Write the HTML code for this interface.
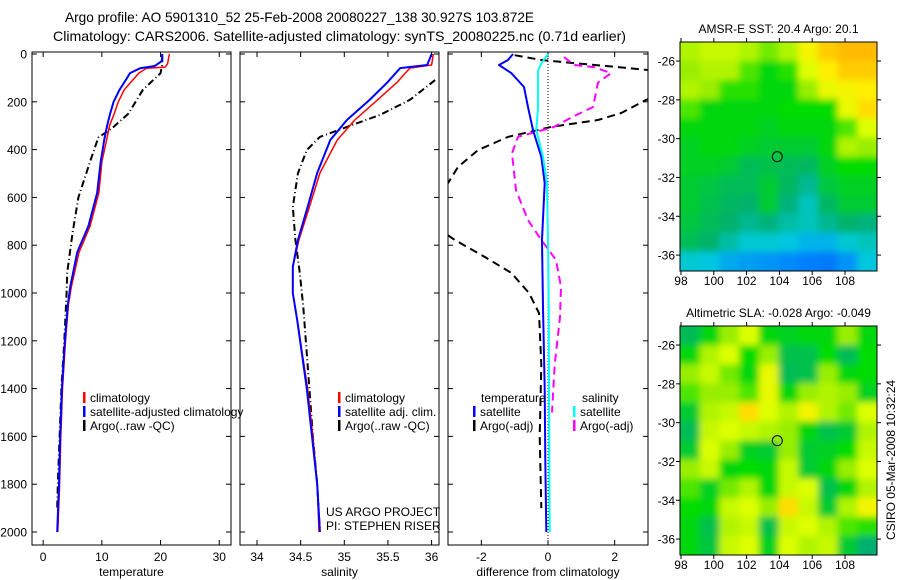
<!DOCTYPE html>
<html><head><meta charset="utf-8"><style>
body{margin:0;background:#fff;}
svg{display:block;font-family:"Liberation Sans",sans-serif;}
text{fill:#000;}
</style></head><body>
<svg id="fig" width="900" height="580" xmlns="http://www.w3.org/2000/svg">
<text x="65" y="22" font-size="14" textLength="469" lengthAdjust="spacingAndGlyphs">Argo profile: AO 5901310_52 25-Feb-2008 20080227_138 30.927S 103.872E</text>
<text x="53" y="41" font-size="14" textLength="573" lengthAdjust="spacingAndGlyphs">Climatology: CARS2006. Satellite-adjusted climatology: synTS_20080225.nc (0.71d earlier)</text>
<g id="layer"></g>
</svg>
<script>
// ---------- data ----------
const tClimDepth=[0,40,55,60,80,100,150,200,250,300,360,450,580,720,830,975,1050,1200,1400,1600,1800,2000];
const tClimVal=[21.5,21.2,20.8,17.6,16.3,15.6,13.8,12.8,12.1,11.3,10.8,10.0,9.5,8.0,6.1,4.8,4.3,3.8,3.3,3.0,2.8,2.5];
const tSatDepth=[0,30,50,60,80,100,150,200,250,300,360,450,580,720,830,975,1050,1200,1400,1600,1800,2000];
const tSatVal=[20.3,20.2,19.0,16.5,14.8,14.3,13.0,12.0,11.4,10.9,10.4,9.8,9.2,7.7,5.8,4.6,4.2,3.7,3.2,2.9,2.7,2.4];
const tArgoDepth=[5,40,80,150,250,305,350,450,600,750,915,1000,1200,1400,1600,1800,1900];
const tArgoVal=[20.3,20.3,20.0,17.0,14.5,12.0,9.4,8.0,6.0,5.0,4.1,4.0,3.6,3.1,2.8,2.5,2.4];
const sClimDepth=[0,46,59,120,192,276,360,498,640,778,891,1000,1113,1400,1600,1800,2000];
const sClimVal=[36.02,36.0,35.75,35.6,35.38,35.12,34.92,34.72,34.6,34.48,34.41,34.41,34.46,34.58,34.64,34.69,34.71];
const sSatDepth=[0,46,59,120,192,276,360,498,640,778,891,1000,1113,1400,1600,1800,2000];
const sSatVal=[36.0,35.95,35.64,35.49,35.29,35.03,34.84,34.69,34.58,34.47,34.41,34.41,34.46,34.57,34.63,34.69,34.72];
const sArgoDepth=[109,192,255,305,347,402,498,640,778,916,1058,1400,1600,1800,2000];
const sArgoVal=[36.04,35.75,35.41,35.03,34.72,34.57,34.47,34.41,34.44,34.49,34.53,34.6,34.64,34.69,34.72];
const dTSatDepth=[0,25,46,80,138,222,318,430,540,778,1058,1400,1700,2000];
const dTSatVal=[-1.05,-1.2,-1.47,-1.1,-0.72,-0.6,-0.45,-0.2,-0.1,-0.18,-0.15,-0.1,-0.08,-0.05];
const dSSatDepth=[0,40,70,222,318,430,540,778,1058,1400,1700,2000];
const dSSatVal=[0,-0.2,-0.3,-0.3,-0.35,-0.15,-0.03,0,0.02,0.03,0.04,0.05];
const dSArgoDepth=[13,46,55,80,120,222,260,305,347,415,570,695,778,862,975,1100,1300,1500];
const dSArgoVal=[0.48,0.78,1.38,1.89,1.5,1.35,0.78,0.18,-0.9,-1.08,-0.96,-0.6,-0.2,0.24,0.39,0.36,0.2,0.12];
const dTArgoDepth=[5,25,38,55,67,100,150,192,247,276,305,347,402,473,540,600,700,778,849,916,1000,1084,1300,1600,1900];
const dTArgoVal=[-1.0,-0.2,0.78,2.1,3.0,4.2,4.0,2.94,2.2,1.5,0.1,-1.2,-2.1,-2.7,-3.0,-3.6,-3.6,-2.8,-1.9,-1.1,-0.57,-0.27,-0.2,-0.25,-0.2];
const depthTicks=[0,200,400,600,800,1000,1200,1400,1600,1800,2000];
const tTicks=[0,10,20,30];
const sTicks=[34,34.5,35,35.5,36];
const dTicks=[-2,0,2];
const lonTicks=[98,100,102,104,106,108];
const latTicks=[-26,-28,-30,-32,-34,-36];
const sstGrid=[
[0.72,0.74,0.74,0.72,0.68,0.72,0.8,0.86,0.88,0.88],
[0.7,0.72,0.72,0.66,0.6,0.64,0.76,0.82,0.86,0.86],
[0.72,0.7,0.64,0.64,0.6,0.6,0.7,0.78,0.8,0.82],
[0.66,0.6,0.6,0.6,0.6,0.62,0.62,0.62,0.78,0.84],
[0.6,0.6,0.6,0.6,0.58,0.6,0.6,0.6,0.66,0.76],
[0.58,0.6,0.6,0.58,0.56,0.56,0.56,0.6,0.72,0.7],
[0.58,0.58,0.56,0.5,0.52,0.5,0.48,0.58,0.62,0.62],
[0.56,0.54,0.5,0.5,0.56,0.48,0.42,0.55,0.58,0.58],
[0.56,0.52,0.48,0.46,0.56,0.44,0.38,0.48,0.56,0.56],
[0.54,0.5,0.46,0.42,0.44,0.4,0.38,0.42,0.46,0.44],
[0.5,0.46,0.4,0.36,0.36,0.34,0.3,0.3,0.36,0.38],
[0.36,0.34,0.28,0.26,0.24,0.22,0.2,0.18,0.24,0.34]];
const slaGrid=[
[0.5,0.6,0.7,0.76,0.6,0.58,0.6,0.6,0.7,0.6],
[0.6,0.72,0.76,0.62,0.7,0.52,0.52,0.62,0.5,0.62],
[0.7,0.74,0.68,0.6,0.78,0.5,0.52,0.7,0.6,0.62],
[0.66,0.7,0.7,0.66,0.78,0.6,0.7,0.72,0.7,0.58],
[0.56,0.72,0.74,0.84,0.76,0.72,0.8,0.72,0.68,0.76],
[0.5,0.74,0.76,0.74,0.72,0.7,0.6,0.52,0.56,0.72],
[0.56,0.76,0.7,0.58,0.56,0.7,0.56,0.58,0.62,0.74],
[0.7,0.74,0.6,0.62,0.6,0.74,0.56,0.6,0.7,0.76],
[0.66,0.58,0.68,0.72,0.6,0.74,0.76,0.52,0.6,0.72],
[0.62,0.6,0.74,0.76,0.7,0.84,0.74,0.56,0.72,0.8],
[0.6,0.52,0.72,0.74,0.52,0.74,0.76,0.72,0.66,0.64],
[0.6,0.54,0.74,0.76,0.58,0.76,0.72,0.74,0.56,0.45]];
const floatLon=103.872, floatLat=-30.927;

// ---------- helpers ----------
const NS="http://www.w3.org/2000/svg";
const layer=document.getElementById('layer');
function mk(tag,attrs,parent){const e=document.createElementNS(NS,tag);for(const k in attrs)e.setAttribute(k,attrs[k]);(parent||layer).appendChild(e);return e;}
const Y0=54, YS=0.239;
function yD(d){return Y0+d*YS;}
const panels=[
 {id:'temp',x0:32,x1:231,vmin:-1.9,vmax:32,ticks:tTicks,label:'temperature'},
 {id:'sal',x0:240,x1:439,vmin:33.805,vmax:36.085,ticks:sTicks,label:'salinity'},
 {id:'diff',x0:448,x1:648,vmin:-3.0,vmax:3.0,ticks:dTicks,label:'difference from climatology'}];
const PT=52,PB=545;
function xf(p,v){return p.x0+(v-p.vmin)/(p.vmax-p.vmin)*(p.x1-p.x0);}

panels.forEach((p,i)=>{
  const g=mk('g',{});
  
  
  const cp=mk('clipPath',{id:'clip'+i},g);
  mk('rect',{x:p.x0,y:PT,width:p.x1-p.x0,height:PB-PT},cp);
  const fr=mk('rect',{x:p.x0,y:PT,width:p.x1-p.x0,height:PB-PT,fill:'none',stroke:'#000','stroke-width':1},g);
  
  
  depthTicks.forEach(d=>{
    const y=yD(d);
    mk('line',{x1:p.x0,x2:p.x0+5,y1:y,y2:y,stroke:'#000'},g);
    mk('line',{x1:p.x1-5,x2:p.x1,y1:y,y2:y,stroke:'#000'},g);
    if(i===0){const t=mk('text',{x:27,y:y+4.5,'font-size':12,'text-anchor':'end'},g);t.textContent=d;
      
      }
  });
  p.ticks.forEach(v=>{
    const x=xf(p,v);
    mk('line',{x1:x,x2:x,y1:PB,y2:PB-5,stroke:'#000'},g);
    mk('line',{x1:x,x2:x,y1:PT,y2:PT+5,stroke:'#000'},g);
    const t=mk('text',{x:x,y:561,'font-size':12,'text-anchor':'middle'},g);t.textContent=v;
    
    
  });
  const lb=mk('text',{x:(p.x0+p.x1)/2,y:576,'font-size':12,'text-anchor':'middle'},g);lb.textContent=p.label;
  
  
  p.g=g;
});

function line(pi,depths,vals,color,w,dash,name){
  const p=panels[pi];
  const pts=depths.map((d,k)=>xf(p,vals[k]).toFixed(1)+','+yD(d).toFixed(1)).join(' ');
  const a={points:pts,fill:'none',stroke:color,'stroke-width':w,'clip-path':'url(#clip'+pi+')','stroke-linejoin':'round'};
  if(dash)a['stroke-dasharray']=dash;
  const e=mk('polyline',a,p.g);
  
  
}
{const p=panels[2];const z=mk('line',{x1:xf(p,0),x2:xf(p,0),y1:PT,y2:PB,stroke:'#000','stroke-width':1,'stroke-dasharray':'1,2'},p.g);

}

line(0,tArgoDepth,tArgoVal,'#000',2,'7,3,1,3','temp-argo-line');
line(0,tClimDepth,tClimVal,'#ff0000',1.5,null,'temp-climatology-line');
line(0,tSatDepth,tSatVal,'#0000ff',2,null,'temp-satellite-line');
line(1,sArgoDepth,sArgoVal,'#000',2,'7,3,1,3','sal-argo-line');
line(1,sClimDepth,sClimVal,'#ff0000',1.5,null,'sal-climatology-line');
line(1,sSatDepth,sSatVal,'#0000ff',2,null,'sal-satellite-line');
line(2,dTArgoDepth,dTArgoVal,'#000',2,'8,5','diff-temp-argo-line');
line(2,dSArgoDepth,dSArgoVal,'#ff00ff',2,'8,5','diff-sal-argo-line');
line(2,dTSatDepth,dTSatVal,'#0000ff',2,null,'diff-temp-satellite-line');
line(2,dSSatDepth,dSSatVal,'#00ffff',2,null,'diff-sal-satellite-line');

function legend(x,y,color,text,name){
  const g=mk('g',{});
  
  
  mk('rect',{x:x,y:y-10,width:2.5,height:11,fill:color},g);
  const t=mk('text',{x:x+7,y:y,'font-size':12},g);t.textContent=text;
}
legend(83,402,'#ff0000','climatology','legend-temp-climatology');
legend(83,416,'#0000ff','satellite-adjusted climatology','legend-temp-satellite');
legend(83,430,'#000','Argo(..raw -QC)','legend-temp-argo');
legend(338,402,'#ff0000','climatology','legend-sal-climatology');
legend(338,416,'#0000ff','satellite adj. clim.','legend-sal-satellite');
legend(338,430,'#000','Argo(..raw -QC)','legend-sal-argo');
{const t=mk('text',{x:481,y:402,'font-size':12});t.textContent='temperature';


const s=mk('text',{x:582,y:402,'font-size':12});s.textContent='salinity';

}
legend(473,416,'#0000ff','satellite','legend-diff-temp-satellite');
legend(473,430,'#000','Argo(-adj)','legend-diff-temp-argo');
legend(573,416,'#00ffff','satellite','legend-diff-sal-satellite');
legend(573,430,'#ff00ff','Argo(-adj)','legend-diff-sal-argo');
{const t1=mk('text',{x:326,y:516,'font-size':12});t1.textContent='US ARGO PROJECT';


const t2=mk('text',{x:326,y:530,'font-size':12});t2.textContent='PI: STEPHEN RISER';

}

// ---------- maps ----------
const stops=[[0,[0,64,192]],[0.2,[0,128,255]],[0.35,[0,204,221]],[0.45,[0,176,112]],[0.55,[0,200,60]],[0.62,[0,221,0]],[0.7,[153,238,0]],[0.76,[221,255,0]],[0.82,[255,238,0]],[0.9,[255,170,0]],[1,[255,102,0]]];
function cmap(v){for(let i=1;i<stops.length;i++){if(v<=stops[i][0]){const a=stops[i-1],b=stops[i];const t=(v-a[0])/(b[0]-a[0]);const c=a[1].map((q,k)=>Math.round(q+(b[1][k]-q)*t));return 'rgb('+c.join(',')+')';}}return 'rgb(255,102,0)';}
const MX0=680,MX1=877,LON0=97.94,LON1=109.95;
function mapPanel(top,bottom,grid,title,name,idx){
  const LAT0=-25.02,LAT1=-36.82;
  const lx=v=>MX0+(v-LON0)/(LON1-LON0)*(MX1-MX0);
  const ly=v=>top+(v-LAT0)/(LAT1-LAT0)*(bottom-top);
  const g=mk('g',{});
  
  
  const f=mk('filter',{id:'blur'+idx,x:'-10%',y:'-10%',width:'120%',height:'120%'},g);
  mk('feGaussianBlur',{stdDeviation:3.5},f);
  const cp=mk('clipPath',{id:'mclip'+idx},g);
  mk('rect',{x:MX0,y:top,width:MX1-MX0,height:bottom-top},cp);
  const cg=mk('g',{'clip-path':'url(#mclip'+idx+')'},g);
  const ig=mk('g',{filter:'url(#blur'+idx+')'},cg);
  const rows=grid.length,cols=grid[0].length;
  const cw=(MX1-MX0)/cols,ch=(bottom-top)/rows;
  grid.forEach((r,ri)=>r.forEach((v,ci)=>{
    const c=mk('rect',{x:MX0+ci*cw-(ci==0?20:0),y:top+ri*ch-(ri==0?20:0),width:cw+(ci==0||ci==cols-1?21:1),height:ch+(ri==0||ri==rows-1?21:1),fill:cmap(v)},ig);
    
    
  }));
  const fr=mk('rect',{x:MX0,y:top,width:MX1-MX0,height:bottom-top,fill:'none',stroke:'#000'},g);
  
  
  lonTicks.forEach(v=>{const x=lx(v);
    mk('line',{x1:x,x2:x,y1:top-4,y2:top,stroke:'#000'},g);
    mk('line',{x1:x,x2:x,y1:bottom,y2:bottom+4,stroke:'#000'},g);
    const t=mk('text',{x:x,y:bottom+14,'font-size':12,'text-anchor':'middle'},g);t.textContent=v;
    
    });
  latTicks.forEach(v=>{const y=ly(v);
    mk('line',{x1:MX0-4,x2:MX0,y1:y,y2:y,stroke:'#000'},g);
    mk('line',{x1:MX1,x2:MX1+4,y1:y,y2:y,stroke:'#000'},g);
    const t=mk('text',{x:MX0-5,y:y+4.5,'font-size':12,'text-anchor':'end'},g);t.textContent=v;
    
    });
  const c=mk('circle',{cx:lx(floatLon),cy:ly(floatLat),r:5,fill:'none',stroke:'#000'},g);
  
  
  const t=mk('text',{x:(MX0+MX1)/2,y:top-9,'font-size':12,'text-anchor':'middle'},g);t.textContent=title;
  
  
}
mapPanel(42,271,sstGrid,'AMSR-E SST: 20.4 Argo: 20.1','sst-map',0);
mapPanel(326,555,slaGrid,'Altimetric SLA: -0.028 Argo: -0.049','sla-map',1);
{const t=mk('text',{x:0,y:0,'font-size':12,'text-anchor':'middle',transform:'translate(895,460) rotate(-90)'});t.textContent='CSIRO 05-Mar-2008 10:32:24';

}
</script>
</body></html>
